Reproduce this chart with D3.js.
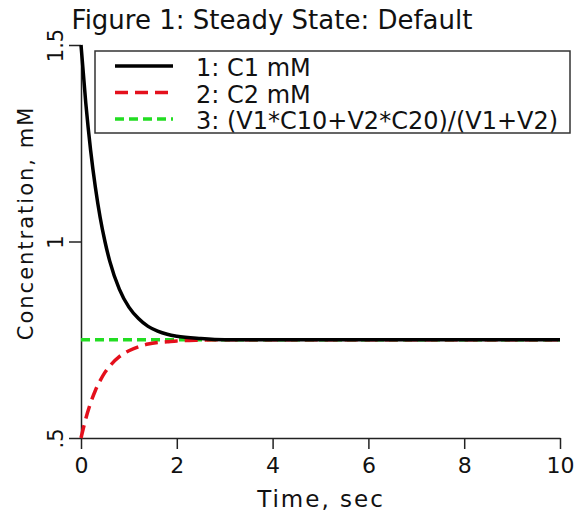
<!DOCTYPE html>
<html>
<head>
<meta charset="utf-8">
<script src="https://cdn.jsdelivr.net/npm/d3@7"></script>
<style>
  body { margin: 0; background: #fff; }
  text { font-family: "DejaVu Sans", sans-serif; fill: #111; }
</style>
</head>
<body>
<div id="chart"></div>
<script>
  const width = 580;
  const height = 514;

  // data
  const time = [0, 0.1, 0.2, 0.3, 0.4, 0.5, 0.6, 0.8, 1.0, 1.2, 1.4, 1.6, 1.8, 2.0, 2.5, 3, 4, 5, 6, 7, 8, 9, 10];
  const c1 = [1.5, 1.352, 1.233, 1.138, 1.061, 1.0, 0.95, 0.879, 0.833, 0.804, 0.784, 0.772, 0.764, 0.759, 0.753, 0.75, 0.75, 0.75, 0.75, 0.75, 0.75, 0.75, 0.75];
  const c2 = [0.5, 0.549, 0.589, 0.621, 0.646, 0.667, 0.683, 0.707, 0.722, 0.732, 0.739, 0.743, 0.745, 0.747, 0.749, 0.75, 0.75, 0.75, 0.75, 0.75, 0.75, 0.75, 0.75];
  const avgTime = [0, 10];
  const avg = [0.75, 0.75];

  const xTicks = [0, 2, 4, 6, 8, 10];
  const yTicks = [0.5, 1, 1.5];
  const yTickLabels = [".5", "1", "1.5"];

  const seriesNames = ["1: C1 mM", "2: C2 mM", "3: (V1*C10+V2*C20)/(V1+V2)"];

  const margin = { top: 45, right: 20, bottom: 76, left: 81 };

  const svg = d3.select("#chart").append("svg")
    .attr("width", width)
    .attr("height", height);

  const x = d3.scaleLinear().domain([0, 10]).range([margin.left, width - margin.right]);
  const y = d3.scaleLinear().domain([0.5, 1.5]).range([height - margin.bottom, margin.top]);

  // title
  svg.append("text")
    .attr("x", 272)
    .attr("y", 29)
    .attr("text-anchor", "middle")
    .style("font-size", "26px")
    .text("Figure 1: Steady State: Default");

  // x axis
  const xAxis = svg.append("g")
    .attr("transform", `translate(0,${y(0.5)})`)
    .call(d3.axisBottom(x).tickValues(xTicks).tickSize(11).tickPadding(8).tickSizeOuter(0));
  xAxis.select(".domain").attr("stroke", "#222").attr("stroke-width", 1.5);
  xAxis.selectAll(".tick line").attr("stroke", "#222").attr("stroke-width", 1.5);
  xAxis.selectAll(".tick text")
    .style("font-family", "DejaVu Sans, sans-serif")
    .style("font-size", "22px")
    .attr("fill", "#111");

  // y axis with rotated labels
  const yAxis = svg.append("g")
    .attr("transform", `translate(${x(0)},0)`)
    .call(d3.axisLeft(y).tickValues(yTicks).tickSize(12).tickSizeOuter(0)
      .tickFormat((d, i) => yTickLabels[i]));
  yAxis.select(".domain").attr("stroke", "#222").attr("stroke-width", 1.5);
  yAxis.selectAll(".tick line").attr("stroke", "#222").attr("stroke-width", 1.5);
  yAxis.selectAll(".tick text")
    .attr("x", null).attr("dy", null)
    .attr("text-anchor", "middle")
    .attr("transform", "translate(-18,0) rotate(-90)")
    .style("font-family", "DejaVu Sans, sans-serif")
    .style("font-size", "21px")
    .attr("fill", "#111");

  // axis titles
  svg.append("text")
    .attr("x", 321)
    .attr("y", 507)
    .attr("text-anchor", "middle")
    .style("font-size", "23px")
    .style("letter-spacing", "2px")
    .text("Time, sec");

  svg.append("text")
    .attr("transform", `translate(33,223) rotate(-90)`)
    .attr("text-anchor", "middle")
    .style("font-size", "21px")
    .style("letter-spacing", "2px")
    .text("Concentration, mM");

  const line = d3.line()
    .x(d => x(d[0]))
    .y(d => y(d[1]))
    .curve(d3.curveMonotoneX);

  const styles = [
    { color: "#000000", dash: null },
    { color: "#e4101c", dash: "13,7" },
    { color: "#22dd22", dash: "9,5" },
  ];

  const series = [
    time.map((t, i) => [t, c1[i]]),
    time.map((t, i) => [t, c2[i]]),
    avgTime.map((t, i) => [t, avg[i]]),
  ];

  // draw green first so the others overlay
  [2, 1, 0].forEach(k => {
    svg.append("path")
      .datum(series[k])
      .attr("d", line)
      .attr("fill", "none")
      .attr("stroke", styles[k].color)
      .attr("stroke-width", 3.5)
      .attr("stroke-dasharray", styles[k].dash);
  });

  // legend
  const legend = svg.append("g");
  legend.append("rect")
    .attr("x", 95).attr("y", 51)
    .attr("width", 475).attr("height", 82)
    .attr("fill", "#fff")
    .attr("stroke", "#333")
    .attr("stroke-width", 1.5);

  seriesNames.forEach((name, i) => {
    const ly = 66 + i * 26.5;
    legend.append("line")
      .attr("x1", 115).attr("x2", 173)
      .attr("y1", ly).attr("y2", ly)
      .attr("stroke", styles[i].color)
      .attr("stroke-width", 3.5)
      .attr("stroke-dasharray", styles[i].dash);
    legend.append("text")
      .attr("x", 196)
      .attr("y", ly + 10)
      .style("font-size", "24px")
      .text(name);
  });
</script>
</body>
</html>
